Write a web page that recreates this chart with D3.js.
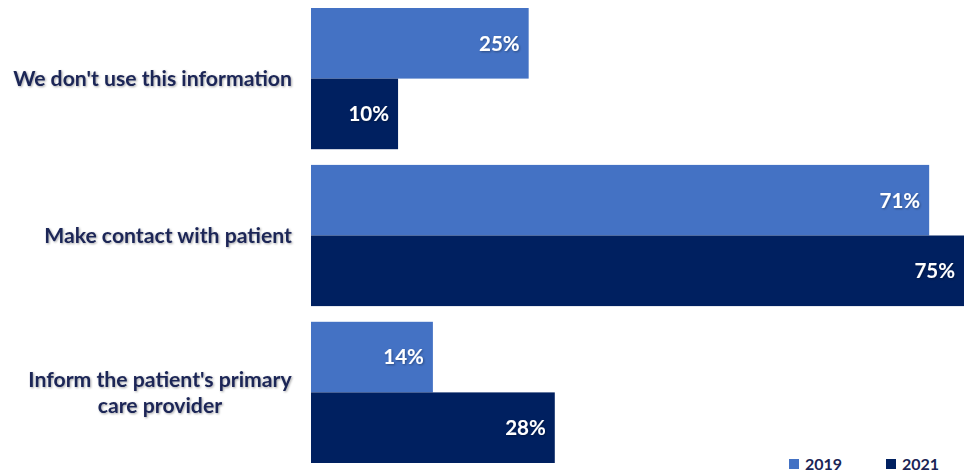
<!DOCTYPE html>
<html>
<head>
<meta charset="utf-8">
<script src="https://cdn.jsdelivr.net/npm/d3@7"></script>
<style>
  html, body { margin: 0; padding: 0; background: #ffffff; }
  svg { display: block; }
  text { font-family: Lato, "Open Sans", "Noto Sans", sans-serif; font-weight: 700; }
</style>
</head>
<body>
<svg id="chart" width="964" height="475"></svg>
<script>
// Survey answers, one line of text per array entry
const categories = [
  ["We don't use this information"],
  ["Make contact with patient"],
  ["Inform the patient's primary", "care provider"]
];
const seriesNames = ["2019", "2021"];
const values2019 = [25, 71, 14];
const values2021 = [10, 75, 28];
const colors = ["#4472C4", "#002060"];

const W = 964, H = 475;
const svg = d3.select("#chart");

const defs = svg.append("defs");
const sh = defs.append("filter").attr("id", "soft").attr("x", "-5%").attr("y", "-20%").attr("width", "110%").attr("height", "150%");
sh.append("feDropShadow").attr("dx", 1).attr("dy", 1).attr("stdDeviation", 0.8)
  .attr("flood-color", "#000").attr("flood-opacity", 0.35);

const rows = categories.map((c, i) => ({ label: c, vals: [values2019[i], values2021[i]] }));

const x = d3.scaleLinear().domain([0, 75]).range([311, 964]);
const y = d3.scaleBand().domain(d3.range(categories.length)).range([8, 463]).paddingInner(0.1).paddingOuter(0);
const ySub = d3.scaleBand().domain([0, 1]).range([0, y.bandwidth()]);

const groups = svg.append("g").selectAll("g").data(rows).join("g")
  .attr("transform", (d, i) => `translate(0,${y(i)})`);

groups.selectAll("rect").data(d => d.vals).join("rect")
  .attr("x", x(0))
  .attr("y", (v, j) => ySub(j))
  .attr("width", v => x(v) - x(0))
  .attr("height", ySub.bandwidth())
  .attr("fill", (v, j) => colors[j]);

groups.selectAll("text.val").data(d => d.vals).join("text")
  .attr("class", "val")
  .attr("x", v => x(v) - 9)
  .attr("y", (v, j) => ySub(j) + ySub.bandwidth() / 2)
  .attr("dy", "0.36em")
  .attr("text-anchor", "end")
  .attr("fill", "#ffffff")
  .attr("font-size", 20.5)
  .attr("filter", "url(#soft)")
  .text(v => v + "%");

// Category labels: centred lines, block right-aligned against the bars
const lineH = 26;
groups.each(function(d) {
  const g = d3.select(this);
  const t = g.append("text")
    .attr("fill", "#1b2556")
    .attr("font-size", 21.2)
    .attr("text-anchor", "middle")
    .attr("filter", "url(#soft)");
  const n = d.label.length;
  d.label.forEach((line, k) => {
    t.append("tspan").attr("x", 0)
      .attr("y", y.bandwidth() / 2 + (k - (n - 1) / 2) * lineH)
      .attr("dy", "0.36em")
      .text(line);
  });
  const w = t.node().getBBox().width;
  t.attr("transform", `translate(${292 - w / 2},0)`);
});

// Legend
const legend = svg.append("g").selectAll("g").data(seriesNames).join("g")
  .attr("transform", (d, i) => `translate(${789 + i * 97},464)`);
legend.append("rect").attr("x", 0).attr("y", -5).attr("width", 10).attr("height", 10)
  .attr("fill", (d, i) => colors[i]);
legend.append("text").attr("x", 16).attr("y", 0).attr("dy", "0.36em")
  .attr("font-size", 16).attr("fill", "#1b2556").text(d => d);
</script>
</body>
</html>
